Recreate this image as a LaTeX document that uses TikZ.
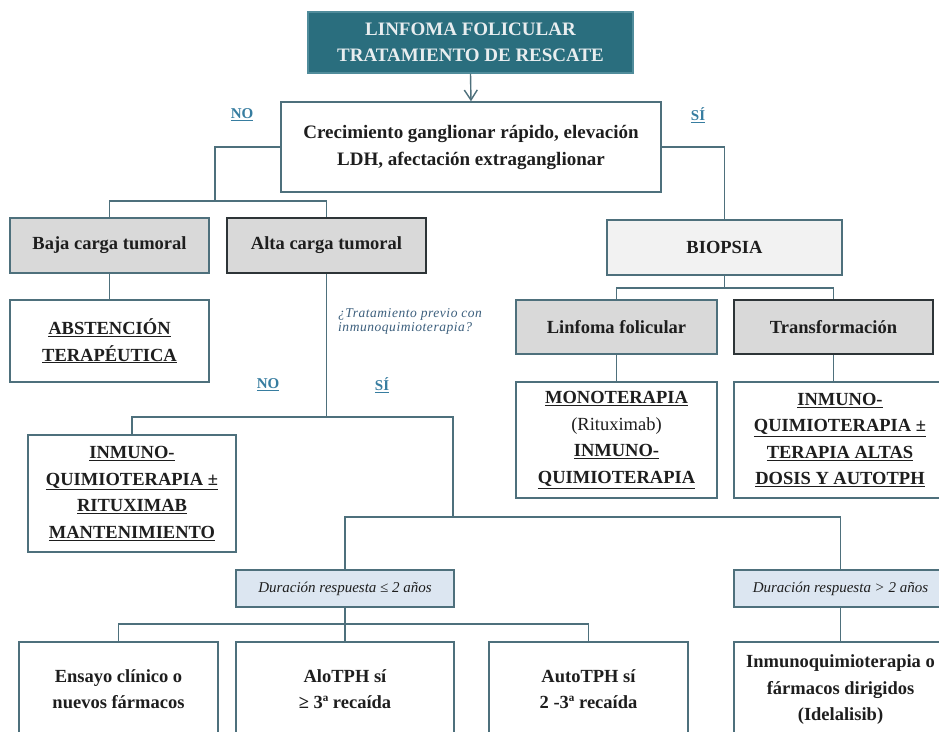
\documentclass[tikz,border=0pt]{standalone}
\usepackage{fontspec}
\setmainfont{Liberation Serif}
\newfontfamily\qfont[LetterSpace=4]{Liberation Serif}
\usetikzlibrary{arrows.meta}
\definecolor{titleF}{RGB}{42,110,126}
\definecolor{titleD}{RGB}{80,140,155}
\definecolor{titleT}{RGB}{232,237,239}
\definecolor{lineC}{RGB}{78,112,124}
\definecolor{darkB}{RGB}{45,52,55}
\definecolor{grayF}{RGB}{217,217,217}
\definecolor{lightF}{RGB}{242,242,242}
\definecolor{blueF}{RGB}{220,230,241}
\definecolor{labC}{RGB}{55,125,160}
\definecolor{qC}{RGB}{60,95,125}
\definecolor{txtC}{RGB}{30,30,30}
\newcommand{\bigtxt}{\fontsize{18.5}{26.5}\selectfont\bfseries}
\newcommand{\ulb}[1]{\underline{#1}}
\begin{document}
\begin{tikzpicture}[x=1pt,y=-1pt,
  box/.style={draw=lineC, line width=1.5pt, fill=white, inner sep=0pt, align=center, text=txtC, font=\bigtxt},
  grayb/.style={box, fill=grayF},
  darkb/.style={grayb, draw=darkB},
  durb/.style={box, fill=blueF, font=\fontsize{15}{18}\selectfont\itshape},
  conn/.style={draw=lineC, line width=1.4pt},
  lab/.style={text=labC, font=\fontsize{15}{18}\selectfont\bfseries, inner sep=0pt},
  qtxt/.style={text=qC, font=\qfont\fontsize{13.5}{14}\selectfont\itshape, align=left, inner sep=0pt}
]
\useasboundingbox (0,0) rectangle (939,731);
\clip (0,0) rectangle (939,731);
\fill[white] (0,0) rectangle (939,731);

% nodes
\node[box, fill=titleF, draw=titleD, text=titleT, font=\fontsize{19}{26}\selectfont\bfseries,
      minimum width=325pt, minimum height=61pt] (title) at (470.5,42.5) {LINFOMA FOLICULAR\\TRATAMIENTO DE RESCATE};
\node[box, font=\fontsize{19}{27}\selectfont\bfseries, minimum width=380pt, minimum height=90pt] (crec) at (471,147)
  {Crecimiento ganglionar rápido, elevación\\LDH, afectación extraganglionar};

\node[grayb, minimum width=199pt, minimum height=55pt] (baja) at (109.5,245.5) {Baja carga tumoral};
\node[darkb, minimum width=199pt, minimum height=55pt] (alta) at (326.5,245.5) {Alta carga tumoral};
\node[box, fill=lightF, minimum width=235pt, minimum height=55pt] (biop) at (724.5,247.5) {BIOPSIA};

\node[box, minimum width=199pt, minimum height=82pt] (abst) at (109.5,341) {\ulb{ABSTENCIÓN}\\\ulb{TERAPÉUTICA}};
\node[grayb, minimum width=201pt, minimum height=54pt] (linf) at (616.5,327) {Linfoma folicular};
\node[darkb, minimum width=199pt, minimum height=54pt] (transf) at (833.5,327) {Transformación};

\node[box, minimum width=201pt, minimum height=116pt] (mono) at (616.5,440)
  {\ulb{MONOTERAPIA}\\{\mdseries(Rituximab)}\\\ulb{INMUNO-}\\\ulb{QUIMIOTERAPIA}};
\node[box, minimum width=212pt, minimum height=116pt] (inmT) at (840,440)
  {\ulb{INMUNO-}\\\ulb{QUIMIOTERAPIA ±}\\\ulb{TERAPIA ALTAS}\\\ulb{DOSIS Y AUTOTPH}};

\node[box, minimum width=208pt, minimum height=117pt] (inmL) at (132,493.5)
  {\ulb{INMUNO-}\\\ulb{QUIMIOTERAPIA ±}\\\ulb{RITUXIMAB}\\\ulb{MANTENIMIENTO}};

\node[durb, minimum width=218pt, minimum height=37pt] (dle) at (345,588.5) {Duración respuesta ≤ 2 años};
\node[durb, minimum width=213pt, minimum height=37pt] (dgt) at (840.5,588.5) {Duración respuesta > 2 años};

\node[box, minimum width=199pt, minimum height=94pt] (ens) at (118.5,689) {Ensayo clínico o\\nuevos fármacos};
\node[box, minimum width=218pt, minimum height=94pt] (alo) at (345,689) {AloTPH sí\\≥ 3ª recaída};
\node[box, minimum width=199pt, minimum height=94pt] (auto) at (588.5,689) {AutoTPH sí\\2 -3ª recaída};
\node[box, minimum width=213pt, minimum height=96pt] (inmq) at (840.5,690)
  {Inmunoquimioterapia o\\fármacos dirigidos\\(Idelalisib)};

% labels
\node[lab] (no1) at (242,115) {\underline{NO}};
\node[lab] (si1) at (698,115) {\underline{SÍ}};
\node[lab] (no2) at (268,385) {\underline{NO}};
\node[lab] (si2) at (382,385) {\underline{SÍ}};
\node[qtxt, anchor=west] (q) at (338,321) {¿Tratamiento previo con\\inmunoquimioterapia?};

% junction coordinates
\coordinate (busL) at (215,201);
\coordinate (busB) at (724.5,288);
\coordinate (busA) at (326.5,417);
\coordinate (cR) at (453,417);
\coordinate (jS) at (453,517);
\coordinate (busD) at (345,624);

% connectors
\draw[conn, -{Straight Barb[length=10pt,width=13pt]}] (title.south) -- (crec.north);
\draw[conn] (crec.west) -| (busL);
\draw[conn] (baja.north) |- (busL) -| (alta.north);
\draw[conn] (crec.east) -| (biop.north);
\draw[conn] (biop.south) -- (busB);
\draw[conn] (linf.north) |- (busB) -| (transf.north);
\draw[conn] (baja.south) -- (abst.north);
\draw[conn] (linf.south) -- (mono.north);
\draw[conn] (transf.south) -- (transf.south |- inmT.north);
\draw[conn] (alta.south) -- (busA);
\draw[conn] (inmL.north) |- (busA) -- (cR) -- (jS);
\draw[conn] (dle.north) |- (jS) -| (dgt.north);
\draw[conn] (dle.south) -- (alo.north);
\draw[conn] (ens.north) |- (busD) -| (auto.north);
\draw[conn] (dgt.south) -- (inmq.north);
\end{tikzpicture}
\end{document}
